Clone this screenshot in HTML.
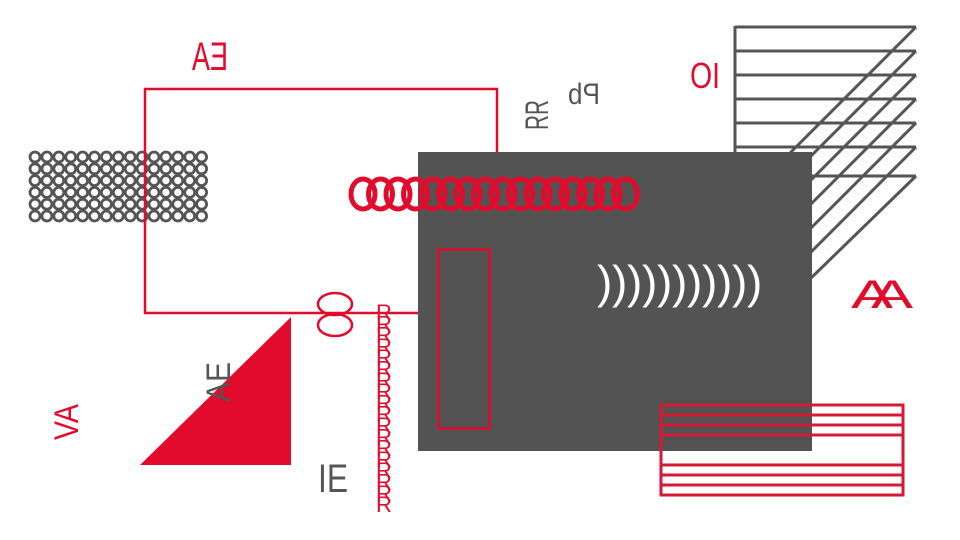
<!DOCTYPE html>
<html><head><style>body{margin:0;background:#fff}svg{display:block}</style></head><body>
<svg width="960" height="540" viewBox="0 0 960 540" xmlns="http://www.w3.org/2000/svg" font-family="Liberation Sans, sans-serif">
<g stroke="#555" stroke-width="3" fill="none">
<line x1="735" y1="26" x2="735" y2="176"/>
<line x1="735" y1="27" x2="916" y2="27"/>
<line x1="735" y1="51" x2="916" y2="51"/>
<line x1="735" y1="75" x2="916" y2="75"/>
<line x1="735" y1="99" x2="916" y2="99"/>
<line x1="735" y1="123" x2="916" y2="123"/>
<line x1="735" y1="147" x2="916" y2="147"/>
<line x1="735" y1="176" x2="916" y2="176"/>
<line x1="916" y1="27" x2="786" y2="157"/>
<line x1="916" y1="51" x2="786" y2="181"/>
<line x1="916" y1="75" x2="786" y2="205"/>
<line x1="916" y1="99" x2="786" y2="229"/>
<line x1="916" y1="123" x2="786" y2="253"/>
<line x1="916" y1="147" x2="786" y2="277"/>
<line x1="916" y1="176" x2="810" y2="279"/>
</g>
<g stroke="#555" stroke-width="2.8" fill="none" id="dots"></g>
<rect x="145" y="89" width="352" height="224" fill="none" stroke="#e30b2c" stroke-width="2.5"/>
<rect x="418" y="152" width="394" height="299" fill="#535353"/>
<rect x="438.5" y="249.5" width="51" height="179" fill="none" stroke="#e30b2c" stroke-width="2.5"/>
<polygon points="140,465 291,317 291,465" fill="#e30b2c"/>
<g stroke="#d51a34" stroke-width="3" fill="none">
<rect x="661" y="405" width="242" height="90"/>
<line x1="661" y1="415" x2="903" y2="415"/>
<line x1="661" y1="425" x2="903" y2="425"/>
<line x1="661" y1="435" x2="903" y2="435"/>
<line x1="661" y1="465" x2="903" y2="465"/>
<line x1="661" y1="475" x2="903" y2="475"/>
<line x1="661" y1="485" x2="903" y2="485"/>
</g>
<g stroke="#e30b2c" stroke-width="5" fill="none" id="coils"></g>
<g stroke="#e30b2c" stroke-width="2.5" fill="none">
<ellipse cx="335" cy="304" rx="17" ry="11"/>
<ellipse cx="335" cy="325" rx="17" ry="11"/>
</g>
<g fill="#e30b2c" font-size="22" id="rcol"></g>
<g fill="#fff" font-size="46" id="par"></g>
<text x="192" y="70" font-size="40" fill="#e30b2c" textLength="36" lengthAdjust="spacingAndGlyphs" transform="translate(420,0) scale(-1,1)">EA</text>
<text x="690" y="88" font-size="36" fill="#e30b2c" textLength="30" lengthAdjust="spacingAndGlyphs" transform="translate(1410,0) scale(-1,1)">IO</text>
<text x="851" y="308" font-size="40" fill="#e30b2c" textLength="40" lengthAdjust="spacingAndGlyphs" letter-spacing="-14">AA</text>
<text x="318" y="492" font-size="40" fill="#555" textLength="30" lengthAdjust="spacingAndGlyphs">IE</text>
<text x="0" y="0" font-size="32" fill="#555" textLength="30" lengthAdjust="spacingAndGlyphs" transform="translate(548,130) rotate(-90)">RR</text>
<text x="0" y="0" font-size="30" fill="#555" textLength="32" lengthAdjust="spacingAndGlyphs" transform="translate(600,104) scale(-1,1)">Pb</text>
<text x="0" y="0" font-size="34" fill="#e30b2c" textLength="36" lengthAdjust="spacingAndGlyphs" transform="translate(78,440) rotate(-90)">VA</text>
<text x="0" y="0" font-size="34" fill="#555" textLength="40" lengthAdjust="spacingAndGlyphs" transform="translate(230,402) rotate(-90)">AE</text>
</svg>
<script>
var ns="http://www.w3.org/2000/svg";
function mk(t,a,p){var e=document.createElementNS(ns,t);for(var k in a)e.setAttribute(k,a[k]);document.getElementById(p).appendChild(e);return e;}
for(var r=0;r<6;r++)for(var c=0;c<15;c++)mk("circle",{cx:35+c*11.9,cy:157+r*11.8,r:5},"dots");
for(var i=0;i<16;i++)mk("ellipse",{cx:363+i*17.5,cy:194,rx:12,ry:15},"coils");
for(var i=0;i<18;i++){var t=mk("text",{x:376,y:320+i*11.3},"rcol");t.textContent="R";}
for(var i=0;i<11;i++){var t=mk("text",{x:597+i*15,y:298},"par");t.textContent=")";}
</script>
</body></html>
